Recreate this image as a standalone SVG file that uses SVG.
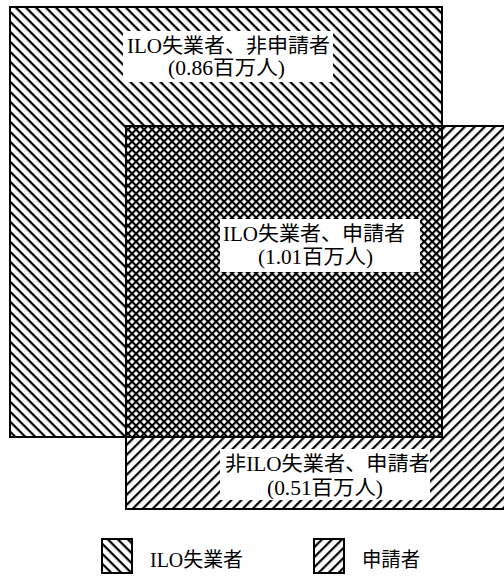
<svg xmlns="http://www.w3.org/2000/svg" width="504" height="576" viewBox="0 0 504 576">
<style>
.lbl{font-family:"Liberation Serif","Noto Sans CJK JP",serif;font-size:20.5px;fill:#000}
.leg{font-family:"Liberation Serif","Noto Sans CJK JP",serif;font-size:20px;fill:#000}
.box{fill:none;stroke:#000;stroke-width:2}
.wb{fill:#fff}
</style>
<defs>
<pattern id="bs" width="7.07" height="7.07" patternUnits="userSpaceOnUse" patternTransform="rotate(45)">
<rect width="7.07" height="2.2" fill="#000"/>
</pattern>
<pattern id="fs" width="7.07" height="7.07" patternUnits="userSpaceOnUse" patternTransform="rotate(-45)">
<rect width="7.07" height="2.2" fill="#000"/>
</pattern>
<pattern id="cx" width="5.66" height="5.66" patternUnits="userSpaceOnUse" patternTransform="rotate(45)">
<rect width="5.66" height="2.1" fill="#000"/>
<rect width="2.1" height="5.66" fill="#000"/>
</pattern>
</defs>
<rect width="504" height="576" fill="#fff"/>
<g id="ilo-unemployed">
<rect x="10" y="7" width="432" height="430" fill="url(#bs)"/>
</g>
<g id="claimants">
<rect x="126" y="126" width="390" height="383" fill="url(#fs)"/>
</g>
<g id="overlap">
<rect x="126" y="126" width="316" height="311" fill="#fff"/>
<rect x="126" y="126" width="316" height="311" fill="url(#cx)"/>
</g>
<g id="borders">
<rect class="box" x="10" y="7" width="432" height="430"/>
<rect class="box" x="126" y="126" width="390" height="383"/>
</g>
<g id="label-ilo-nonclaimant">
<rect class="wb" x="123" y="31" width="210" height="51"/>
<text class="lbl" x="127" y="53" textLength="203" lengthAdjust="spacingAndGlyphs">ILO失業者、非申請者</text>
<text class="lbl" x="168" y="75" textLength="117" lengthAdjust="spacingAndGlyphs">(0.86百万人)</text>
</g>
<g id="label-ilo-claimant">
<rect class="wb" x="220" y="219" width="200" height="53"/>
<text class="lbl" x="223" y="241" textLength="182" lengthAdjust="spacingAndGlyphs">ILO失業者、申請者</text>
<text class="lbl" x="258" y="264" textLength="115" lengthAdjust="spacingAndGlyphs">(1.01百万人)</text>
</g>
<g id="label-nonilo-claimant">
<rect class="wb" x="220" y="449" width="210" height="51"/>
<text class="lbl" x="225" y="471" textLength="205" lengthAdjust="spacingAndGlyphs">非ILO失業者、申請者</text>
<text class="lbl" x="267" y="495" textLength="116" lengthAdjust="spacingAndGlyphs">(0.51百万人)</text>
</g>
<g id="legend-ilo">
<rect x="102" y="539" width="30" height="34" fill="url(#bs)" stroke="#000" stroke-width="2"/>
<text class="leg" x="150" y="567" textLength="93" lengthAdjust="spacingAndGlyphs">ILO失業者</text>
</g>
<g id="legend-claimant">
<rect x="314" y="539" width="30" height="34" fill="url(#fs)" stroke="#000" stroke-width="2"/>
<text class="leg" x="362" y="567" textLength="58" lengthAdjust="spacingAndGlyphs">申請者</text>
</g>
</svg>
